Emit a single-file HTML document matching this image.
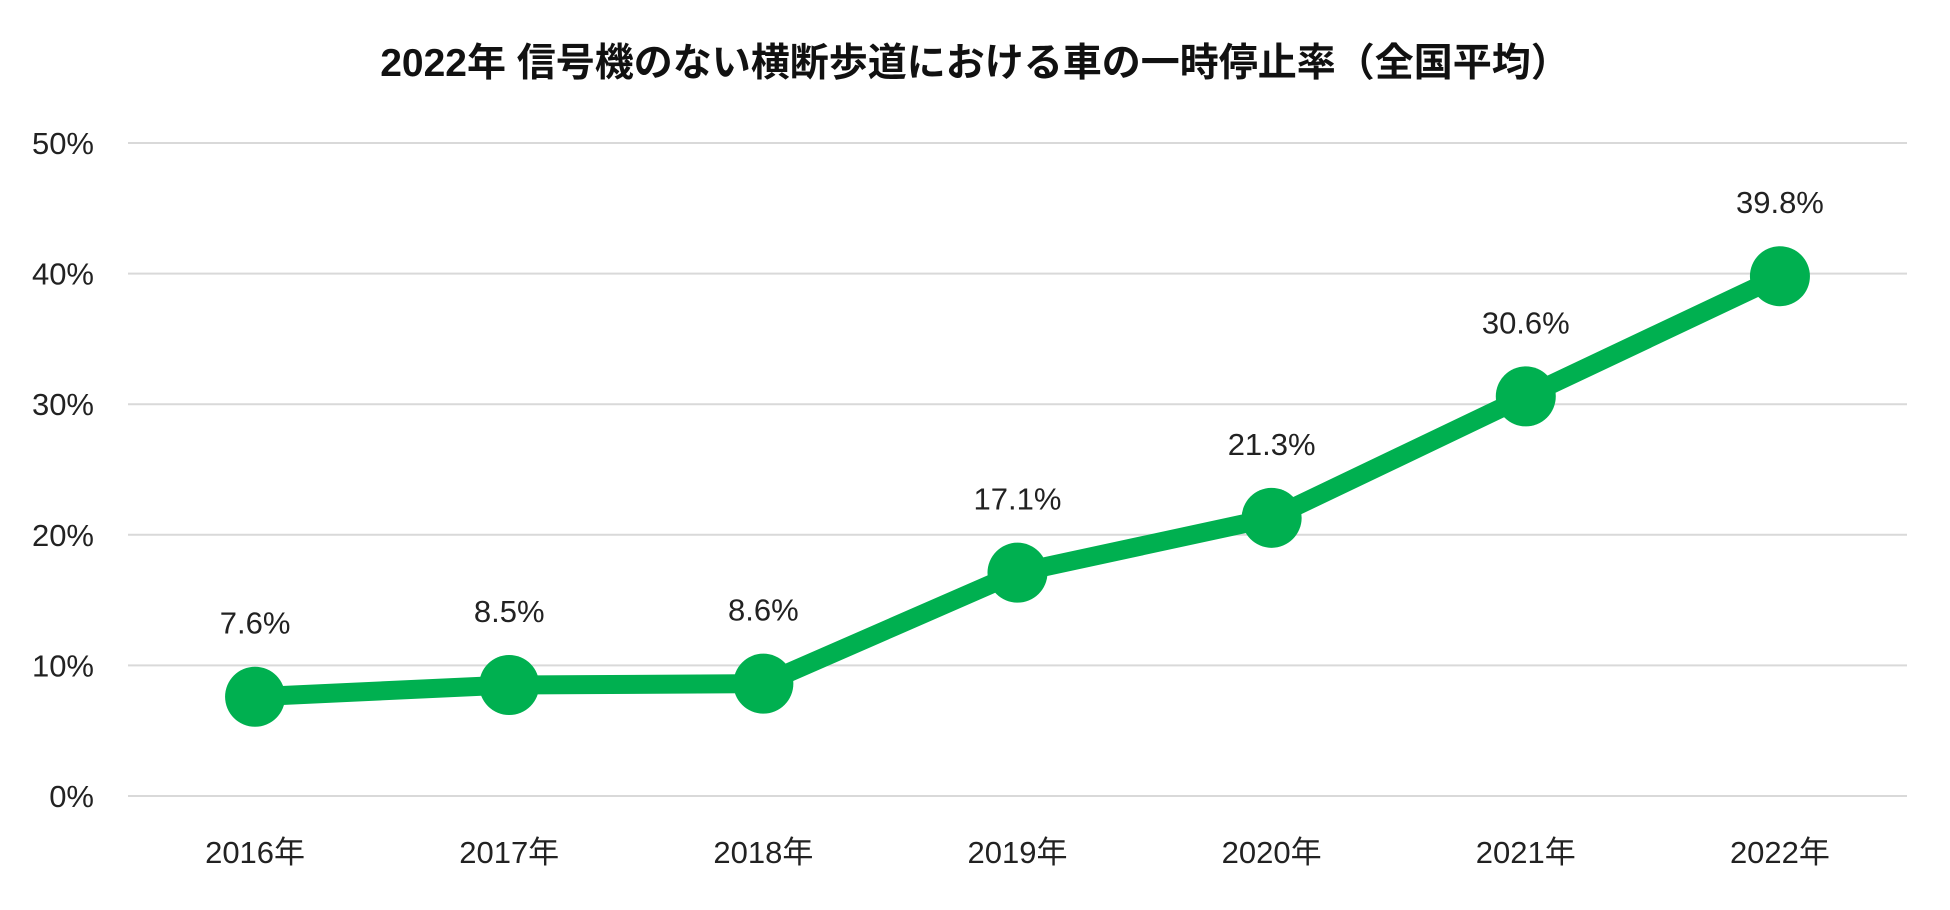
<!DOCTYPE html>
<html><head><meta charset="utf-8"><style>
body{margin:0;background:#fff;}
svg text{font-family:"Liberation Sans","Noto Sans CJK JP",sans-serif;}
</style></head><body>
<svg width="1950" height="905" xmlns="http://www.w3.org/2000/svg" id="chart">
<text x="975" y="76" text-anchor="middle" font-size="39" font-weight="bold" fill="#111">2022年 信号機のない横断歩道における車の一時停止率（全国平均）</text>
<g id="grid"></g><g id="yt"></g><g id="xt"></g><g id="series"></g>
</svg>
<script>
const categories=["2016年","2017年","2018年","2019年","2020年","2021年","2022年"];
const values=[7.6,8.5,8.6,17.1,21.3,30.6,39.8];
const valueLabels=["7.6%","8.5%","8.6%","17.1%","21.3%","30.6%","39.8%"];
const yTicks=[0,10,20,30,40,50];
const yTickLabels=["0%","10%","20%","30%","40%","50%"];
const NS="http://www.w3.org/2000/svg";
const L=128,R=1907,T=143,B=796,max=50;
const y=v=>B-(v/max)*(B-T);
const bw=(R-L)/categories.length;
const x=i=>L+bw*(i+0.5);
function mk(tag,attrs,parent,txt){const e=document.createElementNS(NS,tag);for(const k in attrs)e.setAttribute(k,attrs[k]);if(txt!==undefined)e.textContent=txt;document.getElementById(parent).appendChild(e);return e;}
yTicks.forEach((t,i)=>{
 const g=mk('line',{x1:L,x2:R,y1:y(t),y2:y(t),stroke:'#d9d9d9','stroke-width':2},'grid');
 
 
 const tx=mk('text',{x:94,y:y(t)+11,'text-anchor':'end','font-size':31,fill:'#222'},'yt',yTickLabels[i]);
 
 
});
categories.forEach((c,i)=>{
 const tx=mk('text',{x:x(i),y:863,'text-anchor':'middle','font-size':31,fill:'#222'},'xt',c);
 
 
});
const pts=values.map((v,i)=>x(i)+','+y(v)).join(' ');
const line=mk('polyline',{points:pts,fill:'none',stroke:'#00b050','stroke-width':19,'stroke-linejoin':'round'},'series');


values.forEach((v,i)=>{
 const c=mk('circle',{cx:x(i),cy:y(v),r:30,fill:'#00b050'},'series');
 
 
 const t=mk('text',{x:x(i),y:y(v)-63,'text-anchor':'middle','font-size':31,fill:'#222'},'series',valueLabels[i]);
 
 
});
</script>
</body></html>
